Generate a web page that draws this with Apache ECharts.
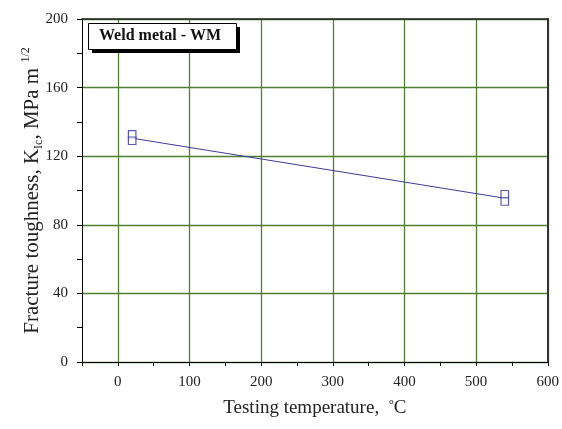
<!DOCTYPE html>
<html><head><meta charset="utf-8">
<script src="https://cdn.jsdelivr.net/npm/echarts@6/dist/echarts.min.js"></script>
<style>html,body{margin:0;padding:0;background:#fff}#c{width:562px;height:429px}</style>
</head><body><div id="c"></div>
<script>
// Data
const pointTemps = [20, 20, 540, 540];
const pointKIc = [132.7, 129.0, 97.8, 93.6];
const fitTemps = [20, 540];
const fitKIc = [130.5, 95.5];
const legendLabel = 'Weld metal - WM';
const xTitle = 'Testing temperature,';
const yTitleParts = ['Fracture toughness, K', 'Ic', ', MPa m', '1/2'];

const font = '"Liberation Serif", "Times New Roman", serif';
const grid = '#4f8032';
const chart = echarts.init(document.getElementById('c'));
chart.setOption({
  animation: false,
  grid: {left: 82, right: 14, top: 19, bottom: 67},
  xAxis: [{
    type: 'value', min: -50, max: 600, interval: 50,
    axisLine: {show: true, onZero: false, lineStyle: {color: '#000', width: 1}},
    axisTick: {show: true, length: 4, lineStyle: {color: '#000'}},
    axisLabel: {fontFamily: font, fontSize: 15, color: '#222', margin: 13,
      formatter: v => (v % 100 === 0 ? String(v) : '')},
    splitLine: {show: true, showMinLine: true, showMaxLine: true,
      lineStyle: {color: ['rgba(0,0,0,0)', grid], width: 1.3}},
    name: xTitle + '  {deg|°}C', nameLocation: 'middle', nameGap: 36,
    nameTextStyle: {fontFamily: font, fontSize: 19, color: '#222',
      rich: {deg: {fontFamily: font, fontSize: 13, color: '#222', verticalAlign: 'top', padding: [0, 0, 7, 0]}}}
  }, {
    type: 'value', min: -50, max: 600, position: 'top',
    axisLine: {show: true, onZero: false, lineStyle: {color: '#222', width: 1.5}},
    axisTick: {show: false}, axisLabel: {show: false}, splitLine: {show: false}
  }],
  yAxis: [{
    type: 'value', min: 0, max: 200, interval: 40,
    minorTick: {show: true, splitNumber: 2, length: 5, lineStyle: {color: '#000'}},
    axisLine: {show: true, onZero: false, lineStyle: {color: '#000', width: 1}},
    axisTick: {show: true, length: 5, lineStyle: {color: '#000'}},
    axisLabel: {fontFamily: font, fontSize: 15, color: '#222', margin: 14},
    splitLine: {show: true, lineStyle: {color: grid, width: 1.3}},
    name: yTitleParts[0] + '{sub|' + yTitleParts[1] + '}' + yTitleParts[2] + ' {sup|' + yTitleParts[3] + '}',
    nameLocation: 'middle', nameGap: 37, nameRotate: 90, nameMoveOverlap: false,
    nameTextStyle: {fontFamily: font, fontSize: 21, color: '#222',
      rich: {
        sub: {fontFamily: font, fontSize: 12, color: '#222', verticalAlign: 'bottom', padding: [8, 0, 0, 0]},
        sup: {fontFamily: font, fontSize: 12, color: '#222', verticalAlign: 'top', padding: [0, 0, 13, 0]}
      }}
  }, {
    type: 'value', min: 0, max: 200, position: 'right',
    axisLine: {show: true, onZero: false, lineStyle: {color: '#333', width: 2}},
    axisTick: {show: false}, axisLabel: {show: false}, splitLine: {show: false}
  }],
  graphic: [
    {type: 'rect', left: 92, top: 27, shape: {width: 148, height: 26}, style: {fill: '#000'}, z: 100},
    {type: 'rect', left: 88, top: 23, shape: {width: 148, height: 26}, style: {fill: '#fff', stroke: '#000', lineWidth: 1}, z: 101},
    {type: 'text', left: 99, top: 28, z: 102,
      style: {text: legendLabel, fontFamily: font, fontSize: 16, fontWeight: 'bold', fill: '#111'}}
  ],
  series: [{
    type: 'line', data: fitTemps.map((t, i) => [t, fitKIc[i]]),
    symbol: 'none', lineStyle: {color: '#3a3a9a', width: 1}, z: 3
  }, {
    type: 'scatter', data: pointTemps.map((t, i) => [t, pointKIc[i]]),
    symbol: 'rect', symbolSize: 7.5,
    itemStyle: {color: '#fff', borderColor: '#3030a0', borderWidth: 1.2}, z: 4
  }]
});
</script></body></html>
